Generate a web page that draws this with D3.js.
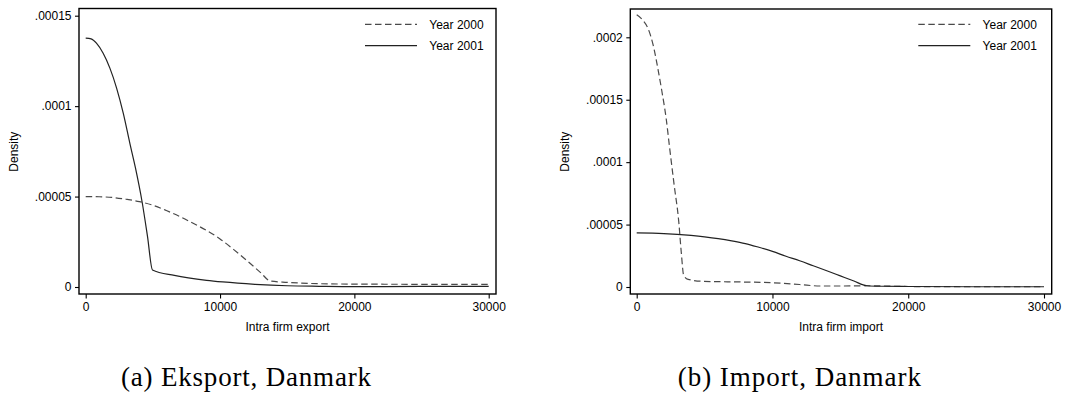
<!DOCTYPE html>
<html>
<head>
<meta charset="utf-8">
<script src="https://cdn.jsdelivr.net/npm/d3@7"></script>
<style>
  html, body { margin: 0; padding: 0; background: #fff; }
  svg { display: block; }
  text { font-family: "Liberation Sans", Arial, sans-serif; fill: #000; }
  .caption { font-family: "Liberation Serif", "Times New Roman", serif; }
</style>
</head>
<body>
<svg id="chart" width="1075" height="397"></svg>
<script>
// ---------------- data ----------------
const xTicks = [0, 10000, 20000, 30000];
const xTickLabels = ["0", "10000", "20000", "30000"];

const exportYTicks = [0, 0.00005, 0.0001, 0.00015];
const exportYTickLabels = ["0", ".00005", ".0001", ".00015"];
const importYTicks = [0, 0.00005, 0.0001, 0.00015, 0.0002];
const importYTickLabels = ["0", ".00005", ".0001", ".00015", ".0002"];

const seriesNames = ["Year 2000", "Year 2001"];

const exportX2000 = [0,1000,2000,3000,4000,5000,6000,7000,8000,9000,10000,11000,12000,13000,13750,15000,17500,20000,25000,30000];
const export2000  = [5.0e-5,4.99e-5,4.95e-5,4.85e-5,4.72e-5,4.52e-5,4.23e-5,3.9e-5,3.52e-5,3.13e-5,2.66e-5,2.08e-5,1.46e-5,8.1e-6,3.3e-6,2.6e-6,1.8e-6,1.6e-6,1.5e-6,1.5e-6];

const exportX2001 = [0,400,800,1300,1800,2300,2800,3300,3700,4200,4600,4970,6600,9000,10200,12600,15000,17400,20000,25000,30000];
const export2001  = [1.376e-4,1.372e-4,1.348e-4,1.292e-4,1.21e-4,1.1e-4,9.6e-5,7.9e-5,6.6e-5,4.7e-5,2.8e-5,9.4e-6,6.4e-6,3.7e-6,2.8e-6,1.5e-6,0.7e-6,0.4e-6,0.2e-6,0.3e-6,0.4e-6];

const importX2000 = [0,440,830,1210,1600,1860,2170,2430,2760,3100,3280,3460,3790,4950,7790,10000,12000,13500,15000,17000,20000,25000,30000];
const import2000  = [2.18e-4,2.139e-4,2.072e-4,1.939e-4,1.725e-4,1.564e-4,1.35e-4,1.11e-4,8.16e-5,5.21e-5,2.81e-5,9.4e-6,6.1e-6,4.5e-6,4.0e-6,3.4e-6,2.0e-6,0.8e-6,0.8e-6,1.0e-6,0.4e-6,0.2e-6,0.2e-6];

const importX2001 = [0,2000,4000,5000,6000,7000,8000,9000,10000,11000,12000,13000,14000,15000,16000,16950,18000,20000,25000,30000];
const import2001  = [4.33e-5,4.28e-5,4.13e-5,4.02e-5,3.88e-5,3.7e-5,3.48e-5,3.18e-5,2.85e-5,2.46e-5,2.1e-5,1.7e-5,1.3e-5,8.9e-6,4.8e-6,1.0e-6,0.6e-6,0.4e-6,0.2e-6,0.2e-6];

const xTitles = ["Intra firm export", "Intra firm import"];
const yTitle = "Density";
const captions = ["(a) Eksport, Danmark", "(b) Import, Danmark"];

// ---------------- layout ----------------
const svg = d3.select("#chart");

const panels = [
  {
    frame: {l: 79, r: 496, t: 8.5, b: 294},
    xr: [85.7, 488.7], yr: [287, 15.7], yMax: 0.00015,
    yTicks: exportYTicks, yLabels: exportYTickLabels,
    s2000: {x: exportX2000, y: export2000},
    s2001: {x: exportX2001, y: export2001},
    xTitle: xTitles[0], yTitleX: 17.5,
    legendX: 365, caption: captions[0], capX: 121, capW: 250
  },
  {
    frame: {l: 630.3, r: 1051.7, t: 9, b: 294},
    xr: [636.7, 1044], yr: [287, 37.3], yMax: 0.0002,
    yTicks: importYTicks, yLabels: importYTickLabels,
    s2000: {x: importX2000, y: import2000},
    s2001: {x: importX2001, y: import2001},
    xTitle: xTitles[1], yTitleX: 569.2,
    legendX: 918.3, caption: captions[1], capX: 677.7, capW: 243.3
  }
];

panels.forEach(p => {
  const f = p.frame;
  const x = d3.scaleLinear().domain([0, 30000]).range(p.xr);
  const y = d3.scaleLinear().domain([0, p.yMax]).range(p.yr);
  const g = svg.append("g");

  // frame
  g.append("rect")
    .attr("x", f.l).attr("y", f.t)
    .attr("width", f.r - f.l).attr("height", f.b - f.t)
    .attr("fill", "none").attr("stroke", "#000").attr("stroke-width", 1.4);

  // x axis
  const xAxis = d3.axisBottom(x).tickValues(xTicks)
    .tickFormat((d, i) => xTickLabels[i]).tickSize(4.5).tickPadding(3.5);
  const gx = g.append("g").attr("transform", `translate(0,${f.b})`).call(xAxis);
  gx.select(".domain").remove();
  gx.selectAll(".tick line").attr("stroke", "#000").attr("stroke-width", 1.1);
  gx.selectAll(".tick text").attr("font-size", 12).attr("fill", "#000")
    .attr("font-family", "Liberation Sans, Arial, sans-serif");

  // y axis
  const yAxis = d3.axisLeft(y).tickValues(p.yTicks)
    .tickFormat((d, i) => p.yLabels[i]).tickSize(4).tickPadding(3.5);
  const gy = g.append("g").attr("transform", `translate(${f.l},0)`).call(yAxis);
  gy.select(".domain").remove();
  gy.selectAll(".tick line").attr("stroke", "#000").attr("stroke-width", 1.1);
  gy.selectAll(".tick text").attr("font-size", 12).attr("fill", "#000")
    .attr("font-family", "Liberation Sans, Arial, sans-serif");

  // titles
  g.append("text")
    .attr("x", (f.l + f.r) / 2).attr("y", 331)
    .attr("text-anchor", "middle").attr("font-size", 12)
    .text(p.xTitle);
  g.append("text")
    .attr("transform", `translate(${p.yTitleX},151.7) rotate(-90)`)
    .attr("text-anchor", "middle").attr("font-size", 12)
    .text(yTitle);

  // lines
  const line = d3.line()
    .x(d => x(d[0])).y(d => y(d[1]))
    .curve(d3.curveMonotoneX);

  const d2000 = p.s2000.x.map((v, i) => [v, p.s2000.y[i]]);
  const d2001 = p.s2001.x.map((v, i) => [v, p.s2001.y[i]]);

  g.append("path").datum(d2000)
    .attr("d", line).attr("fill", "none")
    .attr("stroke", "#4a4a4a").attr("stroke-width", 1.2)
    .attr("stroke-dasharray", "6.5,3.5");
  g.append("path").datum(d2001)
    .attr("d", line).attr("fill", "none")
    .attr("stroke", "#222").attr("stroke-width", 1.2);

  // legend
  const legY = [24.3, 45.7];
  const legStyles = [
    {stroke: "#4a4a4a", dash: "6.5,3.5"},
    {stroke: "#222", dash: null}
  ];
  seriesNames.forEach((name, i) => {
    g.append("line")
      .attr("x1", p.legendX).attr("x2", p.legendX + 52)
      .attr("y1", legY[i]).attr("y2", legY[i])
      .attr("stroke", legStyles[i].stroke).attr("stroke-width", 1.2)
      .attr("stroke-dasharray", legStyles[i].dash);
    g.append("text")
      .attr("x", p.legendX + 64.3).attr("y", legY[i])
      .attr("dy", "0.35em").attr("font-size", 12)
      .text(name);
  });

  // caption
  g.append("text").attr("class", "caption")
    .attr("x", p.capX).attr("y", 386)
    .attr("font-size", 27)
    .attr("textLength", p.capW).attr("lengthAdjust", "spacing")
    .text(p.caption);
});
</script>
</body>
</html>
